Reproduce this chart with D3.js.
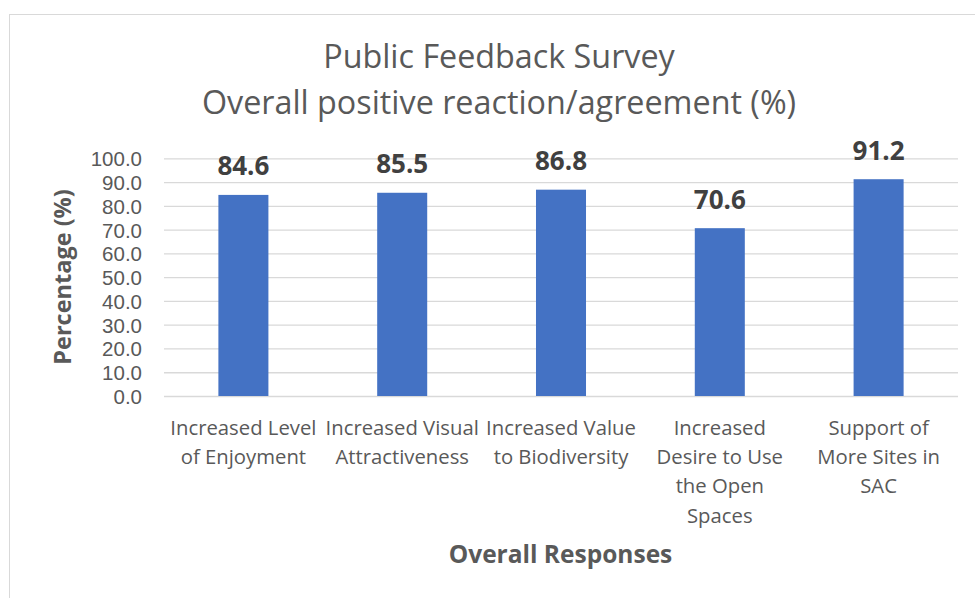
<!DOCTYPE html>
<html><head><meta charset="utf-8">
<script src="https://cdn.jsdelivr.net/npm/d3@7"></script>
<style>
html,body{margin:0;padding:0;background:#fff;}
svg{display:block;font-family:"Open Sans",sans-serif;}
</style></head>
<body>
<svg id="chart" width="975" height="598"></svg>
<script>
const categories = ["Increased Level of Enjoyment","Increased Visual Attractiveness","Increased Value to Biodiversity","Increased Desire to Use the Open Spaces","Support of More Sites in SAC"];
const tickLabelLines = [["Increased Level","of Enjoyment"],["Increased Visual","Attractiveness"],["Increased Value","to Biodiversity"],["Increased","Desire to Use","the Open","Spaces"],["Support of","More Sites in","SAC"]];
const values = [84.6, 85.5, 86.8, 70.6, 91.2];
const yTicks = [0,10,20,30,40,50,60,70,80,90,100];
const titleLines = ["Public Feedback Survey","Overall positive reaction/agreement (%)"];
const yTitle = "Percentage (%)";
const xTitle = "Overall Responses";

const svg = d3.select("#chart");
const textColor = "#595959";
const m = {left:164, right:958, top:158.3, bottom:396};

// chart border
svg.append("rect").attr("x",9.5).attr("y",14.5).attr("width",975).attr("height",600)
  .attr("fill","#fff").attr("stroke","#d9d9d9").attr("stroke-width",1);

const x = d3.scaleBand().domain(categories).range([m.left,m.right]).paddingInner(0.685).paddingOuter(0.3425);
const y = d3.scaleLinear().domain([0,100]).range([m.bottom,m.top]);

// gridlines + y ticks
const yAxis = d3.axisLeft(y).tickValues(yTicks).tickFormat(d3.format(".1f")).tickSize(-(m.right-m.left)).tickPadding(22);
const gy = svg.append("g").attr("transform",`translate(${m.left},0)`).call(yAxis);
gy.select(".domain").remove();
gy.selectAll(".tick line").attr("stroke","#d9d9d9").attr("stroke-width",1.3);
gy.selectAll(".tick text").attr("fill",textColor).attr("font-size",20.5).attr("font-family","Liberation Sans").attr("dy","0.36em");

// bars
svg.append("g").selectAll("rect").data(values).join("rect")
  .attr("x",(d,i)=>x(categories[i])).attr("width",x.bandwidth())
  .attr("y",d=>y(d)).attr("height",d=>y(0)-y(d)).attr("fill","#4472C4");

// value labels
svg.append("g").selectAll("text").data(values).join("text")
  .attr("x",(d,i)=>x(categories[i])+x.bandwidth()/2).attr("y",d=>y(d)-19.5)
  .attr("text-anchor","middle").attr("font-weight","bold").attr("font-size",26)
  .attr("fill","#404040").text(d=>d.toFixed(1));

// x tick labels
const xg = svg.append("g");
categories.forEach((c,i)=>{
  const t = xg.append("text").attr("text-anchor","middle").attr("fill",textColor).attr("font-size",20.3);
  tickLabelLines[i].forEach((ln,j)=>{
    t.append("tspan").attr("x",x(c)+x.bandwidth()/2).attr("y",435+j*29.2).text(ln);
  });
});

// title
svg.append("g").selectAll("text").data(titleLines).join("text")
  .attr("x",499).attr("y",(d,i)=>68+i*45.5).attr("text-anchor","middle")
  .attr("font-size",32.3).attr("fill",textColor).text(d=>d);

// axis titles
svg.append("text").attr("transform","translate(71,277) rotate(-90)").attr("text-anchor","middle")
  .attr("font-weight","bold").attr("font-size",23.5).attr("fill",textColor).text(yTitle);
svg.append("text").attr("x",560.5).attr("y",563).attr("text-anchor","middle")
  .attr("font-weight","bold").attr("font-size",24.5).attr("fill",textColor).text(xTitle);
</script>
</body></html>
